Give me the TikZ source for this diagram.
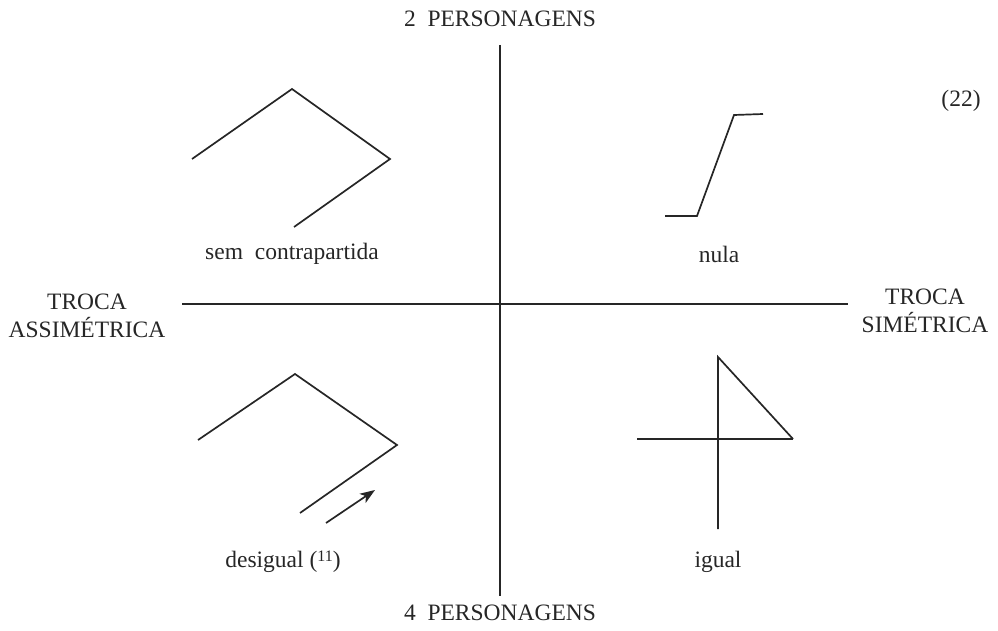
\documentclass[tikz,border=0pt]{standalone}
\usepackage{fontspec}
\setmainfont{Liberation Serif}
\usetikzlibrary{arrows.meta}
\begin{document}
\begin{tikzpicture}[x=1pt,y=-1pt,
  ln/.style={line width=1.7pt,line join=miter,black!85},
  lbl/.style={font=\fontsize{23.5}{28}\selectfont,inner sep=0pt,text=black!85},
  axlbl/.style={lbl,align=center}]
\useasboundingbox (0,0) rectangle (998,631);
% axes
\coordinate (vt) at (500,45);
\coordinate (vb) at (500,596);
\coordinate (hl) at (182,304);
\coordinate (hr) at (848,304);
\draw[ln] (vt) -- (vb);
\draw[ln] (hl) -- (hr);
% axis labels
\node[lbl] (top) at (500,19) {2\ \ PERSONAGENS};
\node[lbl] (bot) at (500,613) {4\ \ PERSONAGENS};
\node[axlbl] (left) at (87,316) {TROCA\\ASSIMÉTRICA};
\node[axlbl] (right) at (925,311) {TROCA\\SIMÉTRICA};
\node[lbl] (num) at (961,101) {(22)};
% top-left: sem contrapartida
\coordinate (a1) at (192,159);
\coordinate (a2) at (292,89);
\coordinate (a3) at (390,159);
\coordinate (a4) at (294,227);
\draw[ln] (a1) -- (a2) -- (a3) -- (a4);
\node[lbl] (t1) at (292,254) {sem\ \ contrapartida};
% top-right: nula
\coordinate (b1) at (665,216);
\coordinate (b2) at (697,216);
\coordinate (b3) at (734,115);
\coordinate (b4) at (763,114);
\draw[ln] (b1) -- (b2) -- (b3) -- (b4);
\node[lbl] (t2) at (719,254) {nula};
% bottom-left: desigual
\coordinate (c1) at (198,440);
\coordinate (c2) at (295,374);
\coordinate (c3) at (397,445);
\coordinate (c4) at (300,513);
\draw[ln] (c1) -- (c2) -- (c3) -- (c4);
\coordinate (d1) at (326,523);
\coordinate (d2) at (375,490);
\draw[ln,-{Stealth[length=15pt,width=11pt,inset=4pt]}] (d1) -- (d2);
\node[lbl] (t3) at (283,562) {desigual (\raisebox{0.6ex}{\fontsize{16}{19}\selectfont 11})};
% bottom-right: igual
\coordinate (e1) at (718,357);
\coordinate (e2) at (718,529);
\coordinate (e3) at (637,439);
\coordinate (e4) at (793,439);
\draw[ln] (e2) -- (e1) -- (e4);
\draw[ln] (e3) -- (e4);
\node[lbl] (t4) at (718,562) {igual};
\end{tikzpicture}
\end{document}
